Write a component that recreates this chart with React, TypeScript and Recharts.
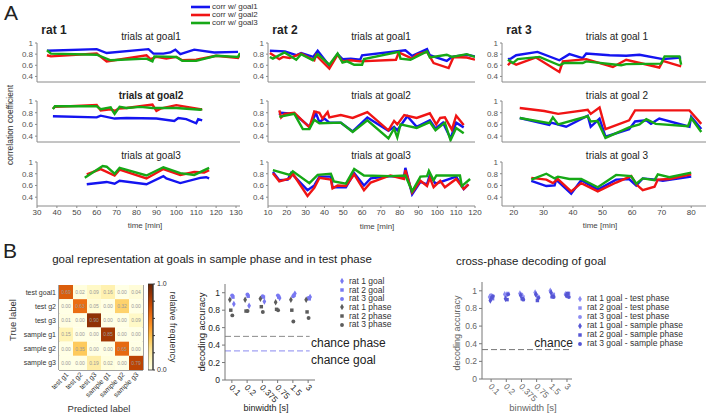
import React from 'react';
import {
  LineChart, Line, XAxis, YAxis, ScatterChart, Scatter,
  ReferenceLine, BarChart, Bar, Legend, Symbols,
} from 'recharts';

const FONT = '"Liberation Sans", Arial, Helvetica, sans-serif';
const BLUE = '#1414f0';
const RED = '#f01414';
const GREEN = '#16a816';

// ---- panel A: correlation traces, [time (min), r] ----
const r1g1Blue = [[35,0.86],[60,0.89],[65,0.82],[86,0.89],[88.5,0.81],[93.5,0.81],[97,0.83],[99.5,0.88],[102,0.8],[109,0.88],[119,0.83],[131,0.84]];
const r1g1Red = [[35,0.78],[37,0.76],[60,0.81],[65,0.67],[85,0.78],[87,0.71],[90,0.75],[95,0.72],[100,0.75],[103,0.69],[110,0.7],[120,0.77],[131,0.73],[132,0.8]];
const r1g1Green = [[35,0.87],[37,0.81],[60,0.79],[67,0.69],[85,0.72],[88,0.67],[89,0.76],[100,0.75],[103,0.68],[110,0.68],[120,0.77],[131,0.75],[132,0.82]];

const r1g2Blue = [[38,0.74],[60,0.72],[62,0.75],[69,0.7],[75,0.71],[90,0.7],[99,0.66],[101,0.71],[105,0.69],[110,0.62],[111,0.69],[113,0.67]];
const r1g2Red = [[38,0.87],[39,0.9],[60,0.93],[62,0.84],[67,0.86],[69,0.83],[71,0.87],[75,0.88],[88,0.94],[90,0.83],[92,0.87],[100,0.93],[112,0.86],[113,0.86]];
const r1g2Green = [[38,0.86],[39,0.91],[60,0.91],[62,0.86],[67,0.89],[68,0.83],[69,0.78],[71.5,0.9],[75,0.88],[82,0.9],[88,0.88],[100,0.88],[112,0.85],[113,0.86]];

const r1g3Blue = [[55,0.62],[65,0.66],[69,0.63],[71.5,0.68],[85,0.62],[93.5,0.76],[95,0.72],[102,0.64],[112,0.73],[115,0.74],[116.5,0.72]];
const r1g3Red = [[55,0.79],[62,0.88],[69,0.77],[71.5,0.87],[85,0.72],[93.5,0.88],[102,0.78],[109,0.83],[114,0.82],[116.5,0.86]];
const r1g3Green = [[54,0.73],[63,0.93],[65,0.92],[69,0.8],[71.5,0.9],[85,0.77],[93.5,0.91],[102,0.81],[109,0.78],[116.5,0.9]];

const r2g1Blue = [[11,0.86],[19,0.85],[25,0.78],[27.6,0.82],[34,0.75],[36.4,0.86],[42.6,0.59],[47,0.8],[49.6,0.71],[54,0.72],[59,0.7],[60,0.78],[83,0.87],[86.6,0.77],[94.5,0.89],[96,0.78],[105,0.68],[107.7,0.75],[115.6,0.79],[120,0.76]];
const r2g1Red = [[11,0.82],[16,0.71],[18,0.75],[21.5,0.73],[27.6,0.81],[34.6,0.69],[35.5,0.78],[42.6,0.54],[47,0.79],[49.6,0.67],[54,0.69],[59,0.67],[78,0.7],[79.5,0.83],[86.6,0.72],[89,0.79],[94.5,0.84],[98,0.64],[106,0.55],[108.6,0.75],[115.6,0.74],[120,0.7]];
const r2g1Green = [[11,0.75],[12.6,0.72],[18.8,0.83],[25,0.7],[27.6,0.8],[33.8,0.69],[36.4,0.8],[42.6,0.61],[47,0.81],[49.6,0.65],[52,0.67],[55.8,0.61],[60,0.61],[61,0.71],[79.5,0.84],[80.4,0.72],[85.7,0.7],[94.5,0.85],[96,0.74],[105,0.79],[107.7,0.75],[115.6,0.8],[120,0.75]];

const r2g2Blue = [[16,0.76],[17,0.8],[24,0.78],[32,0.56],[35.5,0.79],[37.3,0.64],[40,0.7],[42.6,0.63],[48.7,0.63],[55,0.48],[62.8,0.72],[74,0.49],[77,0.56],[78.7,0.5],[84,0.74],[89,0.56],[96,0.67],[99,0.53],[103,0.63],[107,0.36],[110,0.63],[114,0.55]];
const r2g2Red = [[16,0.84],[17,0.72],[18.8,0.78],[24,0.8],[32,0.55],[34.6,0.82],[37.3,0.8],[39,0.7],[41.7,0.81],[42.6,0.72],[48.7,0.76],[55,0.71],[62.8,0.81],[74,0.5],[77,0.66],[78.7,0.6],[82.4,0.76],[89,0.71],[96,0.79],[99.4,0.6],[101.5,0.71],[104,0.72],[107.7,0.51],[110,0.75],[114,0.59]];
const r2g2Green = [[16,0.73],[24,0.78],[28.5,0.52],[32,0.52],[34.6,0.68],[37.3,0.62],[48.7,0.63],[55,0.47],[62.8,0.67],[74,0.36],[77,0.53],[78.7,0.38],[80.4,0.6],[89,0.54],[96,0.64],[99,0.5],[104,0.63],[107,0.33],[110,0.54],[114,0.45]];

const r2g3Blue = [[12.6,0.83],[16,0.69],[20.5,0.7],[22.3,0.81],[31,0.52],[34.6,0.6],[37.3,0.75],[43.4,0.75],[44.3,0.57],[51.4,0.57],[55.8,0.81],[61,0.6],[64.6,0.72],[75,0.76],[82.3,0.75],[83,0.9],[86.6,0.45],[91,0.66],[94.5,0.62],[96,0.78],[99,0.63],[110,0.75],[114,0.54],[116.5,0.62]];
const r2g3Red = [[12.6,0.81],[16,0.67],[21.5,0.72],[23.2,0.8],[31,0.42],[34.6,0.56],[37.3,0.73],[43.4,0.7],[44.3,0.55],[47,0.6],[51.4,0.59],[55.8,0.79],[61,0.52],[64.6,0.65],[75,0.77],[82.3,0.71],[83,0.86],[86.6,0.48],[91,0.68],[94.5,0.59],[96,0.73],[98,0.57],[101.5,0.68],[104,0.57],[110,0.71],[114,0.54],[116.5,0.62]];
const r2g3Green = [[12.6,0.86],[21.5,0.78],[23.2,0.84],[32,0.64],[36.4,0.78],[43.4,0.8],[45,0.67],[51.4,0.63],[55.8,0.88],[61,0.77],[75,0.76],[83,0.77],[86.6,0.5],[91,0.75],[94.5,0.76],[95.5,0.85],[98,0.69],[99.5,0.77],[112,0.77],[113,0.59],[117.4,0.71]];

const r3g1Blue = [[18,0.71],[19,0.72],[20.8,0.78],[28,0.84],[35.4,0.69],[38.8,0.8],[43.3,0.73],[44.5,0.81],[52.4,0.78],[58,0.77],[62.5,0.79],[70.4,0.71],[76.6,0.74]];
const r3g1Red = [[18,0.6],[19,0.66],[20.8,0.61],[27.5,0.74],[35.4,0.48],[36.6,0.67],[44.5,0.71],[53.5,0.57],[58,0.7],[69.2,0.56],[70.4,0.68],[76.6,0.58]];
const r3g1Green = [[18,0.7],[19.7,0.64],[21.3,0.71],[28.7,0.75],[35.4,0.6],[37,0.64],[43.3,0.64],[44.5,0.67],[56.3,0.6],[58,0.62],[69.8,0.63],[71,0.76],[76,0.76],[76.6,0.61]];

const r3g2Blue = [[22,0.71],[32,0.59],[32.6,0.63],[37.7,0.56],[45,0.75],[46,0.56],[49,0.7],[51,0.39],[59,0.52],[61,0.65],[64.8,0.67],[66.4,0.61],[69.2,0.7],[79.4,0.56],[80,0.73],[83.4,0.52]];
const r3g2Red = [[22,0.88],[30.3,0.83],[35,0.78],[45,0.85],[46,0.78],[49,0.89],[51,0.52],[59,0.67],[61,0.84],[64.8,0.84],[79.4,0.84],[83.4,0.61]];
const r3g2Green = [[22,0.71],[32,0.62],[33.2,0.72],[35,0.6],[45,0.74],[46,0.65],[48.3,0.66],[51,0.37],[59,0.55],[62.5,0.6],[64.8,0.69],[68,0.61],[78.9,0.57],[80,0.71],[83.4,0.47]];

const r3g3Blue = [[25.9,0.68],[31,0.59],[33.8,0.6],[34.3,0.7],[39.4,0.46],[42.8,0.69],[48.4,0.53],[54.6,0.7],[59,0.71],[61.4,0.6],[63.6,0.72],[68,0.7],[70.4,0.68],[80,0.75]];
const r3g3Red = [[25.9,0.73],[31,0.7],[33.2,0.64],[34.9,0.71],[39.4,0.5],[42.8,0.64],[48.4,0.5],[54.6,0.65],[59.7,0.76],[61.4,0.62],[63.6,0.52],[67.6,0.58],[68.7,0.7],[72.6,0.71],[80,0.79]];
const r3g3Green = [[25.9,0.7],[31,0.8],[33.8,0.72],[34.9,0.75],[38.8,0.71],[42.8,0.71],[48.4,0.57],[54.6,0.78],[59.7,0.76],[61.4,0.63],[63.6,0.72],[67.6,0.69],[68.7,0.79],[72.6,0.74],[80,0.82]];

const corrNames = ['corr w/ goal1', 'corr w/ goal2', 'corr w/ goal3'];
const corrTicks = [0.4, 0.6, 0.8, 1];
const timeTicks1 = [30, 40, 50, 60, 70, 80, 90, 100, 110, 120, 130];
const timeTicks2 = [10, 20, 30, 40, 50, 60, 70, 80, 90, 100, 110, 120];
const timeTicks3 = [20, 30, 40, 50, 60, 70, 80];
const ratNames = ['rat 1', 'rat 2', 'rat 3'];
const panelTitles = [
  ['trials at goal1', 'trials at goal2', 'trials at goal3'],
  ['trials at goal1', 'trials at goal2', 'trials at goal3'],
  ['trials at goal 1', 'trials at goal 2', 'trials at goal 3'],
];
const traces = [
  [[r1g1Blue, r1g1Red, r1g1Green], [r1g2Blue, r1g2Red, r1g2Green], [r1g3Blue, r1g3Red, r1g3Green]],
  [[r2g1Blue, r2g1Red, r2g1Green], [r2g2Blue, r2g2Red, r2g2Green], [r2g3Blue, r2g3Red, r2g3Green]],
  [[r3g1Blue, r3g1Red, r3g1Green], [r3g2Blue, r3g2Red, r3g2Green], [r3g3Blue, r3g3Red, r3g3Green]],
];

// ---- panel B: confusion matrix ----
const heatRows = ['test goal1', 'test g2', 'test g3', 'sample g1', 'sample g2', 'sample g3'];
const heatCols = ['test g1', 'test g2', 'test g3', 'sample g1', 'sample g2', 'sample g3'];
const confTestG1 = [0.69, 0.02, 0.09, 0.16, 0.0, 0.04];
const confTestG2 = [0.0, 0.63, 0.05, 0.0, 0.32, 0.0];
const confTestG3 = [0.01, 0.0, 0.9, 0.0, 0.0, 0.09];
const confSampleG1 = [0.15, 0.0, 0.0, 0.85, 0.0, 0.0];
const confSampleG2 = [0.0, 0.35, 0.0, 0.0, 0.65, 0.0];
const confSampleG3 = [0.0, 0.0, 0.19, 0.02, 0.0, 0.79];
const confRows = [confTestG1, confTestG2, confTestG3, confSampleG1, confSampleG2, confSampleG3];

// ---- panel B: decoding accuracy per binwidth ----
const binLabels = ['0.1', '0.2', '0.375', '0.75', '1.5', '3'];
const rat1Goal = [0.87, 0.85, 0.9, 0.94, 0.99, 0.95];
const rat2Goal = [0.95, 0.96, 0.95, 0.95, 0.97, 0.93];
const rat3Goal = [0.97, 0.98, 0.96, 0.97, 0.96, 0.94];
const rat1Phase = [0.92, 0.92, 0.93, 0.89, 0.92, 0.92];
const rat2Phase = [0.8, 0.79, 0.84, 0.81, 0.8, 0.78];
const rat3Phase = [0.74, 0.79, 0.78, 0.8, 0.67, 0.71];

const rat1TestPhase = [0.93, 0.96, 0.97, 0.98, 1.0, 0.96];
const rat2TestPhase = [0.91, 0.97, 0.93, 0.93, 0.96, 0.97];
const rat3TestPhase = [0.95, 0.95, 0.96, 0.95, 0.93, 0.94];
const rat1SamplePhase = [0.89, 0.91, 0.95, 0.96, 0.98, 0.95];
const rat2SamplePhase = [0.92, 0.9, 0.91, 0.89, 0.94, 0.97];
const rat3SamplePhase = [0.94, 0.96, 0.9, 0.92, 0.93, 0.93];

const GOALC = '#7878f2';
const PHASEC = '#5c5c5c';
const TESTC = '#8c8cf2';
const SAMPLEC = '#5656d4';

const midSeries = [
  { name: 'rat 1 goal', vals: rat1Goal, shape: 'diamond', color: GOALC, dx: 0.13 },
  { name: 'rat 2 goal', vals: rat2Goal, shape: 'square', color: GOALC, dx: 0.07 },
  { name: 'rat 3 goal', vals: rat3Goal, shape: 'circle', color: GOALC, dx: 0.02 },
  { name: 'rat 1 phase', vals: rat1Phase, shape: 'diamond', color: PHASEC, dx: -0.13 },
  { name: 'rat 2 phase', vals: rat2Phase, shape: 'square', color: PHASEC, dx: -0.07 },
  { name: 'rat 3 phase', vals: rat3Phase, shape: 'circle', color: PHASEC, dx: 0.03 },
];
const crossSeries = [
  { name: 'rat 1 goal - test phase', vals: rat1TestPhase, shape: 'diamond', color: TESTC, dx: -0.1 },
  { name: 'rat 2 goal - test phase', vals: rat2TestPhase, shape: 'square', color: TESTC, dx: 0.1 },
  { name: 'rat 3 goal - test phase', vals: rat3TestPhase, shape: 'circle', color: TESTC, dx: 0.0 },
  { name: 'rat 1 goal - sample phase', vals: rat1SamplePhase, shape: 'diamond', color: SAMPLEC, dx: -0.05 },
  { name: 'rat 2 goal - sample phase', vals: rat2SamplePhase, shape: 'square', color: SAMPLEC, dx: 0.05 },
  { name: 'rat 3 goal - sample phase', vals: rat3SamplePhase, shape: 'circle', color: SAMPLEC, dx: 0.12 },
];

// layout of the 3x3 grid (plot-area pixels)
const cols = [
  { x: 37, w: 203, domain: [30, 132], ticks: timeTicks1 },
  { x: 268, w: 207, domain: [10, 120], ticks: timeTicks2 },
  { x: 502, w: 204, domain: [16, 85], ticks: timeTicks3 },
];
const rows = [
  { y: 43, h: 39, min: 0.3 },
  { y: 101, h: 41, min: 0.3 },
  { y: 162, h: 44, min: 0.25 },
];
const titleX = [151, 381, 617];
const titleY = [37, 96, 156];

// YlOrBr colormap
const YLORBR = ['#ffffe5', '#fff7bc', '#fee391', '#fec44f', '#fe9929', '#ec7014', '#cc4c02', '#993404', '#662506'];
function ylOrBr(v: number) {
  const t = Math.max(0, Math.min(1, v)) * (YLORBR.length - 1);
  const i = Math.min(YLORBR.length - 2, Math.floor(t));
  const f = t - i;
  const a = YLORBR[i], b = YLORBR[i + 1];
  const ch = (s: string, k: number) => parseInt(s.slice(1 + 2 * k, 3 + 2 * k), 16);
  const c = [0, 1, 2].map((k) => Math.round(ch(a, k) + (ch(b, k) - ch(a, k)) * f));
  return `rgb(${c[0]},${c[1]},${c[2]})`;
}

function Label({ x, y, children, size = 10, weight = 400, color = '#222', rot = 0, align = 'center' }: any) {
  const tx = align === 'center' ? '-50%' : align === 'right' ? '-100%' : '0%';
  return (
    <div
      style={{
        position: 'absolute', left: x, top: y, fontSize: size, fontWeight: weight, color,
        whiteSpace: 'nowrap', lineHeight: 1, transform: `translate(${tx}, -50%) rotate(${rot}deg)`,
      }}
    >
      {children}
    </div>
  );
}

const LineLegend = ({ payload }: any) => {
  const items = [...(payload || [])].sort((a: any, b: any) => corrNames.indexOf(a.value) - corrNames.indexOf(b.value));
  return (
    <div>
      {items.map((p: any) => (
        <div key={p.value} style={{ display: 'flex', alignItems: 'center', height: 8, lineHeight: '8px' }}>
          <svg width={19} height={4}><line x1={0} y1={2} x2={19} y2={2} stroke={p.color} strokeWidth={2.6} /></svg>
          <span style={{ marginLeft: 2, color: '#333' }}>{p.value}</span>
        </div>
      ))}
    </div>
  );
};

const ScatterLegend = ({ payload, order, rowH }: any) => {
  const items = [...(payload || [])].sort((a: any, b: any) => order.indexOf(a.value) - order.indexOf(b.value));
  return (
    <div>
      {items.map((p: any) => (
        <div key={p.value} style={{ display: 'flex', alignItems: 'center', height: rowH, lineHeight: `${rowH}px` }}>
          <svg width={6} height={6}><Symbols cx={3} cy={3} size={12} type={p.type} fill={p.color} /></svg>
          <span style={{ marginLeft: 4, color: '#333' }}>{p.value}</span>
        </div>
      ))}
    </div>
  );
};

function CorrPanel({ col, row, legend }: any) {
  const c = cols[col];
  const r = rows[row];
  const YW = 24;
  const MT = 6;
  const MR = row === 2 ? 10 : 3;
  const XH = row === 2 ? 13 : 4;
  return (
    <div style={{ position: 'absolute', left: c.x - YW, top: r.y - MT }}>
      <LineChart width={YW + c.w + MR} height={MT + r.h + XH} margin={{ top: MT, right: MR, bottom: 0, left: 0 }}>
        <XAxis
          type="number" dataKey="t" domain={c.domain} ticks={c.ticks} interval={0} allowDataOverflow
          height={XH} stroke="#8a8a8a" tickSize={2} tickMargin={1}
          tick={row === 2 ? { fontSize: 8, fill: '#444' } : false}
        />
        <YAxis
          type="number" dataKey="r" domain={[r.min, 1]} ticks={corrTicks} interval={0} allowDataOverflow
          width={YW} stroke="#8a8a8a" tickSize={2} tickMargin={2} tick={{ fontSize: 8, fill: '#555' }}
        />
        {traces[col][row].map((tr, i) => (
          <Line
            key={i} data={tr.map(([t, v]) => ({ t, r: v }))} dataKey="r" name={corrNames[i]}
            stroke={[BLUE, RED, GREEN][i]} strokeWidth={2.4} dot={false} type="linear" isAnimationActive={false}
          />
        ))}
        {legend && (
          <Legend
            layout="vertical" align="center" verticalAlign="middle"
            wrapperStyle={{ left: 178, top: 3 - (r.y - MT), width: 90, fontSize: 8 }}
            content={(p: any) => <LineLegend {...p} />}
          />
        )}
      </LineChart>
    </div>
  );
}

const HeatXTick = ({ x, y, payload }: any) => (
  <text transform={`translate(${x + 3},${y + 3}) rotate(-45)`} textAnchor="end" fontSize={7} fill="#333">
    {heatCols[payload.value]}
  </text>
);

const HeatYTick = ({ x, y, payload }: any) => (
  <text x={x} y={y} dy={2.5} textAnchor="end" fontSize={7} fill="#333">
    {heatRows[payload.value]}
  </text>
);

function Heatmap() {
  const YW = 49, XH = 32, W = 84, H = 85;
  const cw = W / 6, chh = H / 6;
  const cells = confRows.flatMap((row, ri) => row.map((v, ci) => ({ x: ci, y: ri, v })));
  const shape = (p: any) => (
    <g>
      <rect x={p.cx - cw / 2} y={p.cy - chh / 2} width={cw} height={chh} fill={ylOrBr(p.payload.v)} />
      <text x={p.cx} y={p.cy + 1.8} fontSize={5} fill="#9a9a9a" textAnchor="middle">{p.payload.v.toFixed(2)}</text>
    </g>
  );
  return (
    <div style={{ position: 'absolute', left: 59 - YW, top: 285 }}>
      <ScatterChart width={YW + W + 1} height={H + XH} margin={{ top: 0, right: 1, bottom: 0, left: 0 }}>
        <XAxis
          type="number" dataKey="x" domain={[-0.5, 5.5]} ticks={[0, 1, 2, 3, 4, 5]} interval={0}
          height={XH} tickLine={false} tickSize={0} stroke="#444" tick={(p: any) => <HeatXTick {...p} />}
        />
        <YAxis
          type="number" dataKey="y" domain={[-0.5, 5.5]} reversed ticks={[0, 1, 2, 3, 4, 5]} interval={0}
          width={YW} tickLine={false} tickSize={0} tickMargin={3} stroke="#444"
          tick={(p: any) => <HeatYTick {...p} />}
        />
        <Scatter data={cells} shape={shape} isAnimationActive={false} />
        <ReferenceLine x={5.5} stroke="#444" />
        <ReferenceLine y={-0.5} stroke="#444" />
      </ScatterChart>
    </div>
  );
}

function ColorBar() {
  const MT = 5;
  return (
    <div style={{ position: 'absolute', left: 148, top: 284 - MT }}>
      <BarChart width={24} height={86 + 2 * MT} data={[{ name: 'cb', v: 1 }]} margin={{ top: MT, right: 0, bottom: MT, left: 0 }} barCategoryGap={0}>
        <defs>
          <linearGradient id="cbGrad" x1="0" y1="1" x2="0" y2="0">
            {YLORBR.map((c, i) => <stop key={c} offset={i / (YLORBR.length - 1)} stopColor={c} />)}
          </linearGradient>
        </defs>
        <XAxis dataKey="name" hide />
        <YAxis
          orientation="right" domain={[0, 1]} ticks={[0, 0.2, 0.4, 0.6, 0.8, 1]} interval={0} width={19}
          stroke="#333" tickSize={2} tickMargin={2} tick={{ fontSize: 7, fill: '#333' }}
          tickFormatter={(v: number) => (v === 0 || v === 1 ? v.toFixed(1) : '')}
        />
        <Bar dataKey="v" fill="url(#cbGrad)" stroke="#333" strokeWidth={0.8} isAnimationActive={false} />
      </BarChart>
    </div>
  );
}

const BinTick = ({ x, y, payload, fill }: any) => (
  <text transform={`translate(${x - 3},${y + 3}) rotate(45)`} textAnchor="start" fontSize={8.5} fill={fill}>
    {binLabels[payload.value]}
  </text>
);

function DecodingChart({ x, y, w, h, xDomain, series, tickFill, chance, legendAt, rightSpace }: any) {
  const YW = 20, XH = 30, MT = 5;
  const order = series.map((s: any) => s.name);
  return (
    <div style={{ position: 'absolute', left: x - YW, top: y - MT }}>
      <ScatterChart width={YW + w + rightSpace} height={MT + h + XH} margin={{ top: MT, right: rightSpace, bottom: 0, left: 0 }}>
        <XAxis
          type="number" dataKey="x" domain={xDomain} ticks={[0, 1, 2, 3, 4, 5]} interval={0} allowDataOverflow
          height={XH} stroke="#777" tickSize={3} tick={(p: any) => <BinTick {...p} fill={tickFill} />}
        />
        <YAxis
          type="number" dataKey="y" domain={[0, 1.1]} ticks={[0, 0.2, 0.4, 0.6, 0.8, 1]} interval={0} allowDataOverflow
          width={YW} stroke="#777" tickSize={3} tickMargin={2} tick={{ fontSize: 8.5, fill: tickFill }}
        />
        {chance.map((c: any) => (
          <ReferenceLine
            key={c.y} segment={[{ x: xDomain[0], y: c.y }, { x: c.toX, y: c.y }]}
            stroke={c.color} strokeDasharray="6 3"
          />
        ))}
        {series.map((s: any) => (
          <Scatter
            key={s.name} name={s.name} data={s.vals.map((v: number, i: number) => ({ x: i + s.dx, y: v }))}
            fill={s.color} legendType={s.shape} isAnimationActive={false}
            shape={(p: any) => <Symbols cx={p.cx} cy={p.cy} size={12} type={s.shape} fill={s.color} />}
          />
        ))}
        <Legend
          layout="vertical" align="center" verticalAlign="middle"
          wrapperStyle={{ left: legendAt[0], top: legendAt[1] + MT, width: 140, fontSize: 8.5 }}
          content={(p: any) => <ScatterLegend {...p} order={order} rowH={legendAt[2]} />}
        />
      </ScatterChart>
    </div>
  );
}

export default function App() {
  return (
    <div style={{ position: 'absolute', left: 0, top: 0, width: 711, height: 416, background: '#fff', fontFamily: FONT, overflow: 'hidden' }}>
      <Label x={4} y={12} size={21} align="left">A</Label>
      <Label x={10} y={125} size={8.5} rot={-90} color="#333">correlation coefficient</Label>
      {ratNames.map((n, ci) => (
        <Label key={n} x={[54, 285, 519][ci]} y={30} size={12} weight={700}>{n}</Label>
      ))}
      {panelTitles.map((ts, ci) => ts.map((t, ri) => (
        <Label key={t + ci} x={titleX[ci]} y={titleY[ri]} size={10} weight={ci === 0 && ri === 1 ? 700 : 400}>{t}</Label>
      )))}
      {cols.map((c, ci) => [0, 1, 2].map((ri) => (
        <CorrPanel key={`${ci}-${ri}`} col={ci} row={ri} legend={ci === 0 && ri === 0} />
      )))}
      <Label x={145} y={226} size={8} color="#444">time [min]</Label>
      <Label x={377} y={227} size={8} color="#444">time [min]</Label>
      <Label x={600} y={226} size={8} color="#444">time [min]</Label>

      <Label x={3} y={250} size={21} align="left">B</Label>
      <Label x={212} y={260} size={11.5}>goal representation at goals in sample phase and in test phase</Label>
      <Label x={531} y={262} size={11.5}>cross-phase decoding of goal</Label>

      <Heatmap />
      <ColorBar />
      <Label x={13} y={320} size={9.5} rot={-90} color="#333">True label</Label>
      <Label x={99} y={409} size={9.5} color="#333">Predicted label</Label>
      <Label x={172} y={327} size={9} rot={90} color="#333">relative frequency</Label>

      <DecodingChart
        x={225} y={284} w={90} h={96} xDomain={[-0.45, 5.45]} series={midSeries} tickFill="#222"
        chance={[{ y: 0.5, color: '#8a8a8a', toX: 5.1 }, { y: 1 / 3, color: '#8a8af0', toX: 5.1 }]}
        legendAt={[134, -7, 8.7]} rightSpace={95}
      />
      <Label x={202} y={332} size={9.5} rot={-90} color="#222">decoding accuracy</Label>
      <Label x={266} y={408} size={9} color="#222">binwidth [s]</Label>
      <Label x={311} y={343} size={12} align="left">chance phase</Label>
      <Label x={311} y={360} size={12} align="left">chance goal</Label>

      <DecodingChart
        x={482} y={282} w={90} h={97} xDomain={[-0.6, 5.33]} series={crossSeries} tickFill="#666"
        chance={[{ y: 1 / 3, color: '#777', toX: 5.33 }]}
        legendAt={[115, 12, 9]} rightSpace={139}
      />
      <Label x={457} y={333} size={9} rot={-90} color="#666">decoding accuracy</Label>
      <Label x={533} y={408} size={9.5} color="#666">binwidth [s]</Label>
      <Label x={573} y={343} size={12} align="right">chance</Label>
    </div>
  );
}
